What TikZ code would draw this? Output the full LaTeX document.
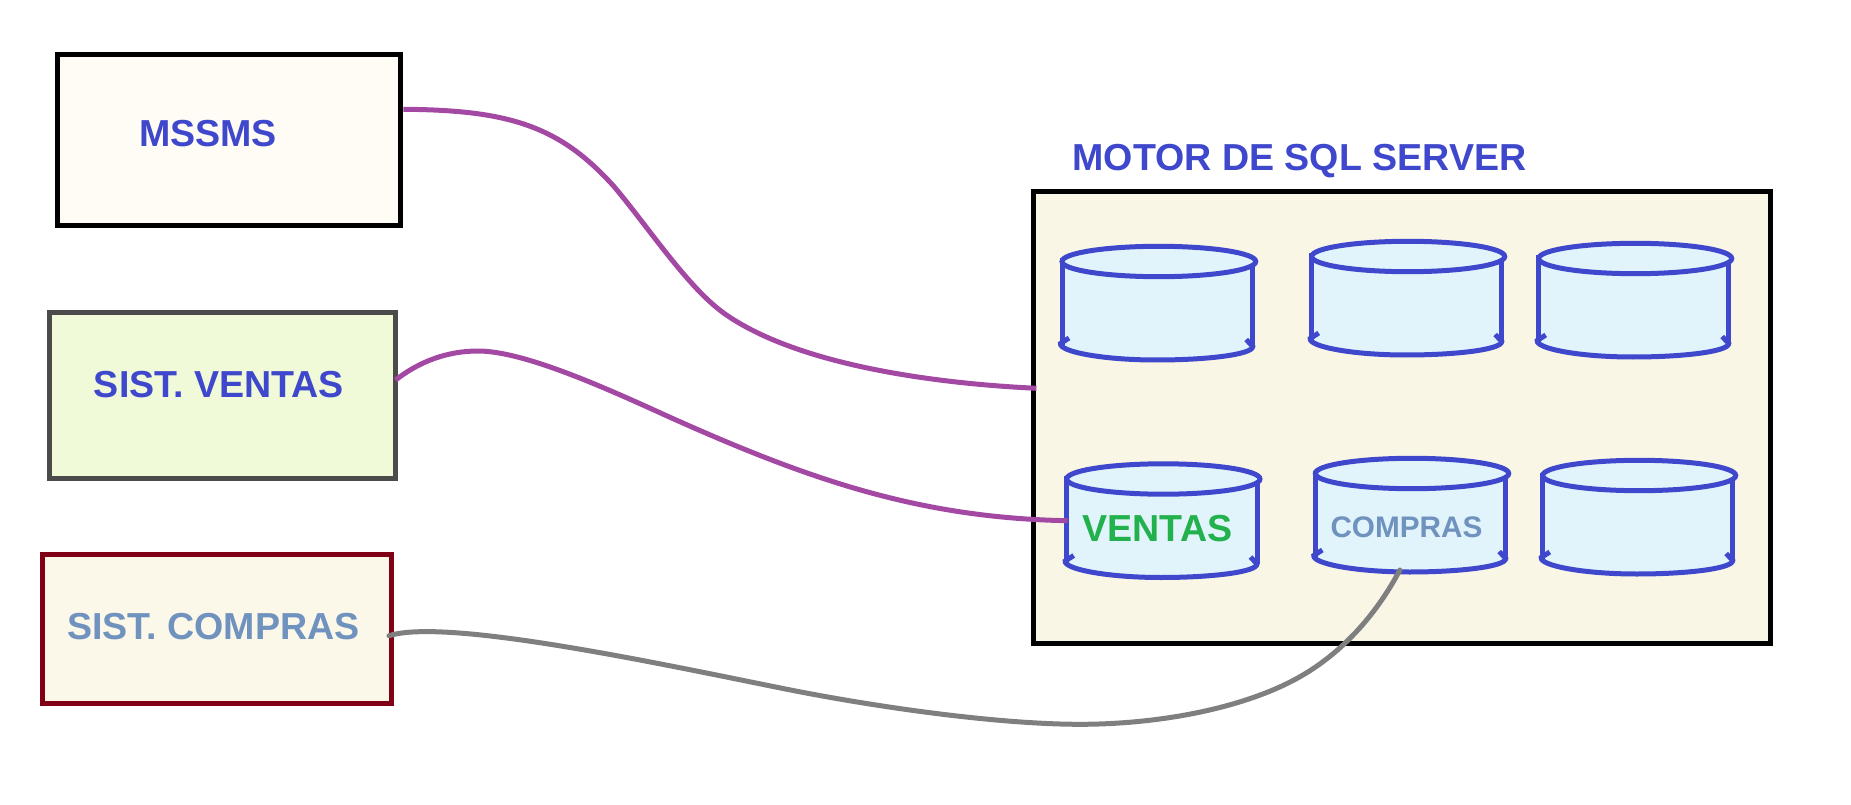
\documentclass[tikz,border=0pt]{standalone}
\usepackage{fontspec}
\setmainfont{Liberation Sans}
\def\px{0.75pt}
\definecolor{indigo}{HTML}{3F48CC}
\definecolor{purp}{HTML}{A349A4}
\definecolor{grayline}{HTML}{7F7F7F}
\definecolor{steel}{HTML}{7092BE}
\definecolor{grn}{HTML}{22B14C}
\definecolor{maroon}{HTML}{800015}
\definecolor{darkedge}{HTML}{4B4B4B}
\definecolor{fillA}{HTML}{FEFCF4}
\definecolor{fillB}{HTML}{F0FAD8}
\definecolor{fillC}{HTML}{FBF7E9}
\definecolor{fillD}{HTML}{F9F6E6}
\definecolor{fillE}{HTML}{E1F4FB}
\tikzset{
  boxnode/.style={rectangle,draw,line width=5*\px,inner sep=0,outer sep=0},
  lbl/.style={anchor=base,inner sep=0,outer sep=0,font=\bfseries\fontsize{28.2pt}{30pt}\selectfont,text=indigo},
  cylline/.style={draw=indigo,line width=5*\px},
  wire/.style={line width=5*\px,line cap=round},
}
\newcommand{\dbcyl}[4]{% name, L, T, width
  \begin{scope}[shift={(#2,#3)}]
    \node[inner sep=0,outer sep=0,minimum width=#4*\px,minimum height=118*\px] (#1) at (#4/2,40) {};
    \fill[fillE] (0,0) -- (#4,0) -- (#4,85) .. controls (#4,92) and (#4/2+52,99) .. (#4/2-1,99)
       .. controls (#4/2-54,99) and (-2,92) .. (-2,84.5) -- cycle;
    \draw[cylline] (0,-3) -- (0,84);
    \draw[cylline] (#4,2) -- (#4,85);
    \draw[cylline] (7,76.5) -- (-1.5,82) .. controls (-3,90) and (40,98.5) .. (#4/2-1,98.5)
       .. controls (#4/2+50,98.5) and (#4,93) .. (#4,85) -- (#4-6.5,78);
    \draw[cylline,fill=fillE] (#4/2+1.5,0) ellipse [x radius=#4/2+1.5,y radius=15.2];
  \end{scope}}
\begin{document}
\begin{tikzpicture}[x=\px,y=-\px]
\useasboundingbox (0,0) rectangle (1851,805);
\node[boxnode,draw=black,fill=fillA,minimum width=343*\px,minimum height=171*\px] (mssms) at (229,140) {};
\node[boxnode,draw=darkedge,fill=fillB,minimum width=345.5*\px,minimum height=165.5*\px] (ventasbox) at (222.25,395.25) {};
\node[boxnode,draw=maroon,fill=fillC,minimum width=349*\px,minimum height=149*\px] (comprasbox) at (217,629) {};
\node[boxnode,draw=black,fill=fillD,minimum width=737*\px,minimum height=452*\px] (motor) at (1402,417.5) {};
\node[lbl] (mssmstxt) at (208,147) {MSSMS};
\node[lbl] (ventastxt) at (219,397) {SIST. VENTAS};
\node[lbl,text=steel] (comprastxt) at (213.5,639) {SIST. COMPRAS};
\node[lbl] (motortxt) at (1299.5,171) {MOTOR DE SQL SERVER};
\dbcyl{dbA}{1062}{261.5}{190.7}
\dbcyl{dbB}{1311.7}{256.5}{190}
\dbcyl{dbC}{1538.7}{258.5}{190}
\dbcyl{dbD}{1066.7}{479}{190.3}
\dbcyl{dbE}{1315.3}{473.5}{190.4}
\dbcyl{dbF}{1542.7}{475.5}{190}
\node[lbl,text=grn] (dbDtxt) at (1157.5,541.7) {VENTAS};
\node[lbl,text=steel,font=\bfseries\fontsize{22.3pt}{24pt}\selectfont] (dbEtxt) at (1406.5,537) {COMPRAS};
\coordinate (a1) at ([xshift=2.9*\px,yshift=30.7*\px]mssms.east);
\coordinate (a2) at ([xshift=2.9*\px,yshift=29.2*\px]motor.west);
\coordinate (b1) at ([xshift=0.6*\px,yshift=15.25*\px]ventasbox.east);
\coordinate (b2) at ([xshift=0.8*\px,yshift=-1.7*\px]dbD.west);
\coordinate (c1) at ([xshift=-2.5*\px,yshift=-6.7*\px]comprasbox.east);
\coordinate (c2) at ([xshift=-10.65*\px,yshift=2.5*\px]dbE.south);
\draw[wire,purp,line cap=butt] (a1) .. controls (510,110) and (560,126.5) .. (614,186.5)
  .. controls (649,228) and (688,288) .. (725,314)
  .. controls (795,363) and (925,383) .. (a2);
\draw[wire,purp,line cap=butt] (b1) .. controls (420,361) and (448,351) .. (478,351)
  .. controls (525,351) and (610,390) .. (670,417.3)
  .. controls (810,480) and (920,518) .. (b2);
\draw[wire,grayline] (c1) .. controls (445,618) and (652,662) .. (782,688.3)
  .. controls (880,708) and (1000,724.3) .. (1080,724.3)
  .. controls (1160,724.3) and (1245,708) .. (1300,676.7)
  .. controls (1340,654) and (1375,617) .. (c2);
\end{tikzpicture}
\end{document}
